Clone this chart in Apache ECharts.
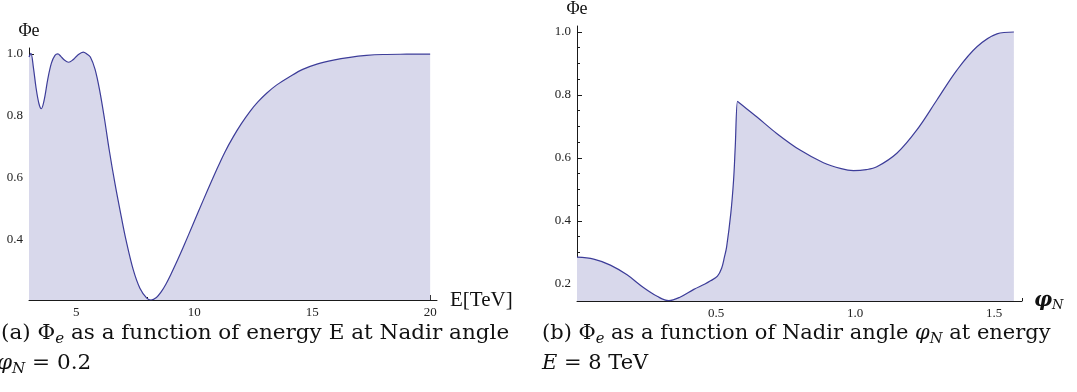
<!DOCTYPE html>
<html><head><meta charset="utf-8">
<script src="https://cdn.jsdelivr.net/npm/echarts@6/dist/echarts.min.js"></script>
<style>html,body{margin:0;padding:0;background:#fff}#c{width:1077px;height:392px}</style>
</head><body><div id="c"></div>
<script>
// (a) Phi_e vs energy E [TeV] at nadir angle 0.2
const energyE = [3.0, 3.08, 3.18, 3.3, 3.42, 3.52, 3.64, 3.8, 3.95, 4.1, 4.22, 4.35, 4.5, 4.68, 4.85, 5.05, 5.3, 5.45, 5.6, 5.8, 6.0, 6.2, 6.4, 6.64, 6.91, 7.11, 7.42, 7.7, 7.99, 8.17, 8.4, 8.6, 8.8, 9.0, 9.3, 9.54, 9.96, 10.39, 10.95, 11.3, 11.66, 12.0, 12.36, 12.7, 13.07, 13.5, 14.06, 14.6, 15.2, 15.9, 16.6, 17.3, 18.0, 19.0, 20.0];
const phiVsEnergy = [0.99, 1.002, 0.96, 0.89, 0.84, 0.823, 0.85, 0.92, 0.97, 0.995, 1.0, 0.992, 0.98, 0.973, 0.98, 0.995, 1.006, 1.0, 0.99, 0.95, 0.88, 0.79, 0.69, 0.583, 0.475, 0.40, 0.303, 0.244, 0.212, 0.206, 0.214, 0.232, 0.257, 0.287, 0.336, 0.377, 0.452, 0.529, 0.626, 0.683, 0.733, 0.775, 0.814, 0.845, 0.873, 0.90, 0.927, 0.95, 0.967, 0.98, 0.989, 0.995, 0.998, 0.999, 0.9995];
// (b) Phi_e vs nadir angle at E = 8 TeV
const nadirAngle = [0, 0.06, 0.12, 0.18, 0.24, 0.29, 0.33, 0.37, 0.42, 0.46, 0.48, 0.505, 0.52, 0.53, 0.538, 0.553, 0.563, 0.569, 0.577, 0.582, 0.646, 0.718, 0.802, 0.886, 0.95, 0.994, 1.04, 1.078, 1.15, 1.222, 1.294, 1.366, 1.438, 1.51, 1.5708];
const phiVsAngle = [0.285, 0.279, 0.260, 0.229, 0.188, 0.160, 0.147, 0.158, 0.183, 0.200, 0.21, 0.225, 0.25, 0.285, 0.318, 0.424, 0.53, 0.636, 0.78, 0.776, 0.731, 0.678, 0.625, 0.585, 0.566, 0.56, 0.563, 0.572, 0.615, 0.689, 0.784, 0.879, 0.953, 0.994, 1.0];

const leftXMajor = [5, 10, 15, 20];
const leftXMinor = [4, 6, 7, 8, 9, 11, 12, 13, 14, 16, 17, 18, 19];
const leftYMajor = [0.4, 0.6, 0.8, 1.0];
const leftYMinor = [0.25, 0.3, 0.35, 0.45, 0.5, 0.55, 0.65, 0.7, 0.75, 0.85, 0.9, 0.95];
const rightXMajor = [0.5, 1.0, 1.5];
const rightXMinor = [0.1, 0.2, 0.3, 0.4, 0.6, 0.7, 0.8, 0.9, 1.1, 1.2, 1.3, 1.4, 1.6];
const rightYMajor = [0.2, 0.4, 0.6, 0.8, 1.0];
const rightYMinor = [0.25, 0.3, 0.35, 0.45, 0.5, 0.55, 0.65, 0.7, 0.75, 0.85, 0.9, 0.95];

const LINE = '#3d3d99', FILL = '#d8d8eb', AX = '#1a1a1a';
const TICKFONT = 'Liberation Serif';

function majorAxis(o) {
  return Object.assign({
    type: 'value', splitLine: {show: false},
    axisLine: {show: true, onZero: false, lineStyle: {color: AX, width: 1}},
    axisTick: {show: true, inside: true, length: 5, customValues: o.ticks, lineStyle: {color: AX}},
    axisLabel: {show: true, customValues: o.ticks, formatter: o.fmt, fontFamily: TICKFONT, fontSize: 13, color: '#222', margin: o.margin}
  }, o.extra);
}
function minorAxis(o) {
  return Object.assign({
    type: 'value', splitLine: {show: false},
    axisLine: {show: false, onZero: false},
    axisTick: {show: true, inside: true, length: 3, customValues: o.ticks, lineStyle: {color: AX}},
    axisLabel: {show: false}
  }, o.extra);
}
const f1 = v => v.toFixed(1);
const f0 = v => String(Math.round(v));

const chart = echarts.init(document.getElementById('c'), null, {renderer: 'canvas'});
const capFont = 'DejaVu Serif';
const capRich = {
  s: {fontSize: 14, fontFamily: capFont, fontStyle: 'italic', padding: [10, 0, 0, 0], lineHeight: 24, fill: '#111'},
  i: {fontSize: 20, fontFamily: capFont, fontStyle: 'italic', lineHeight: 24, fill: '#111'}
};
function cap(x, y, sx, text) {
  return {type: 'text', x: x, y: y, scaleX: sx, style: {text: text, rich: capRich, fontSize: 20, fontFamily: capFont, fill: '#111', lineHeight: 24}};
}
chart.setOption({
  animation: false,
  grid: [
    {left: 29, top: 48, width: 408, height: 252},
    {left: 577, top: 26, width: 445, height: 275}
  ],
  xAxis: [
    majorAxis({ticks: leftXMajor, fmt: f0, margin: 6, extra: {gridIndex: 0, min: 3, max: 20.29, position: 'bottom',
      name: 'E[TeV]', nameLocation: 'end', nameGap: 13, nameTextStyle: {fontFamily: 'Liberation Serif', fontSize: 21, color: '#111', padding: [6, 0, 0, 0]}}}),
    minorAxis({ticks: leftXMinor, extra: {gridIndex: 0, min: 3, max: 20.29, position: 'bottom'}}),
    majorAxis({ticks: rightXMajor, fmt: f1, margin: 6, extra: {gridIndex: 1, min: 0, max: 1.6, position: 'bottom',
      name: '{i|φ}{s|N}', nameLocation: 'end', nameGap: 12,
      nameTextStyle: {fontFamily: 'Liberation Serif', fontSize: 20, color: '#111',
        rich: {i: {fontSize: 20, fontFamily: 'DejaVu Serif', fontStyle: 'italic', fontWeight: 'bold', color: '#111', lineHeight: 24},
               s: {fontSize: 13, fontFamily: 'DejaVu Serif', fontStyle: 'italic', color: '#111', padding: [10, 0, 0, 0], lineHeight: 24}}}}}),
    minorAxis({ticks: rightXMinor, extra: {gridIndex: 1, min: 0, max: 1.6, position: 'bottom'}})
  ],
  yAxis: [
    majorAxis({ticks: leftYMajor, fmt: f1, margin: 6, extra: {gridIndex: 0, min: 0.206, max: 1.019, position: 'left',
      name: 'Φe', nameLocation: 'end', nameGap: 8, nameTextStyle: {fontFamily: 'Liberation Serif', fontSize: 18, color: '#111', align: 'center'}}}),
    minorAxis({ticks: leftYMinor, extra: {gridIndex: 0, min: 0.206, max: 1.019, position: 'left'}}),
    majorAxis({ticks: rightYMajor, fmt: f1, margin: 6, extra: {gridIndex: 1, min: 0.146, max: 1.019, position: 'left',
      name: 'Φe', nameLocation: 'end', nameGap: 8, nameTextStyle: {fontFamily: 'Liberation Serif', fontSize: 18, color: '#111', align: 'center'}}}),
    minorAxis({ticks: rightYMinor, extra: {gridIndex: 1, min: 0.146, max: 1.019, position: 'left'}})
  ],
  series: [
    {type: 'line', xAxisIndex: 0, yAxisIndex: 0, data: energyE.map((e, i) => [e, phiVsEnergy[i]]),
     showSymbol: false, smooth: 0.35, lineStyle: {color: LINE, width: 1.2},
     areaStyle: {color: FILL, opacity: 1, origin: 'start'}},
    {type: 'line', xAxisIndex: 2, yAxisIndex: 2, data: nadirAngle.map((a, i) => [a, phiVsAngle[i]]),
     showSymbol: false, smooth: 0.35, lineStyle: {color: LINE, width: 1.2},
     areaStyle: {color: FILL, opacity: 1, origin: 'start'}}
  ],
  graphic: [
    cap(1, 322, 1.077, '(a) Φ{s|e} as a function of energy E at Nadir angle'),
    cap(-3, 352, 1.077, '{i|φ}{s|N} = 0.2'),
    cap(542, 322, 1.05, '(b) Φ{s|e} as a function of Nadir angle {i|φ}{s|N} at energy'),
    cap(542, 352, 1.05, '{i|E} = 8 TeV')
  ]
});
</script></body></html>
